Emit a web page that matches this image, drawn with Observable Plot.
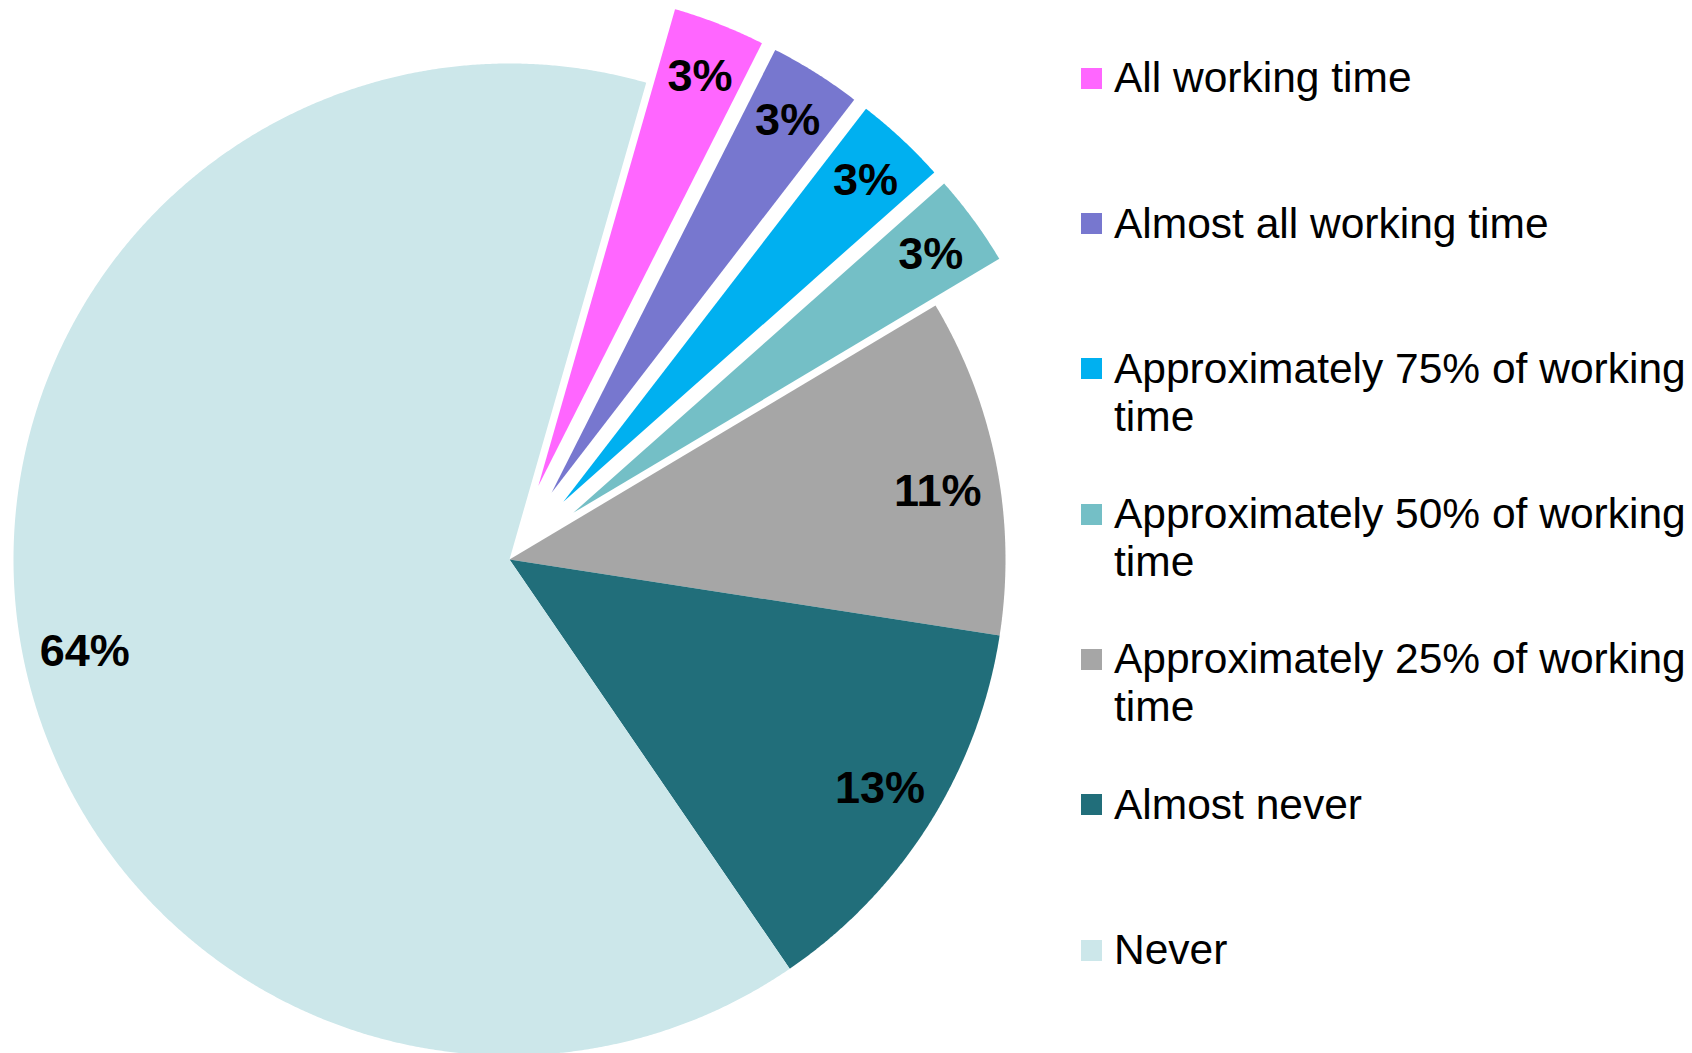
<!DOCTYPE html>
<html><head><meta charset="utf-8">
<script src="https://cdn.jsdelivr.net/npm/d3@7"></script>
<script src="https://cdn.jsdelivr.net/npm/@observablehq/plot@0.6"></script>
<style>
html,body{margin:0;padding:0;background:#fff;overflow:hidden;}
#wrap{position:relative;width:1692px;height:1053px;}
#chart{position:absolute;left:0;top:0;}
#legend{position:absolute;left:1081px;top:0;width:611px;font-family:"Liberation Sans",Arial,sans-serif;font-size:42.5px;color:#000;}
.item{position:absolute;left:0;display:flex;align-items:flex-start;}
.sw{width:21px;height:21px;margin-top:13.5px;flex:none;}
.lab{margin-left:12px;line-height:48px;width:578px;}
</style></head><body>
<div id="wrap"><div id="chart"></div><div id="legend"></div></div>
<script>
// ---- data ----
const categories = ["All working time","Almost all working time","Approximately 75% of working time","Approximately 50% of working time","Approximately 25% of working time","Almost never","Never"];
const values = [3,3,3,3,11,13,64];
const valueLabels = ["3%","3%","3%","3%","11%","13%","64%"];
const colors = ["#FF66FF","#7777CF","#00B0F0","#74BFC6","#A6A6A6","#216E7A","#CCE7EA"];
const explodedCategories = ["All working time","Almost all working time","Approximately 75% of working time","Approximately 50% of working time"];

// ---- layout ----
const W = 1060, H = 1053, cx = 509, cy = 559, R = 496;
const startDeg = 16;           // first slice angle, clockwise from 12 o'clock
const explode = 79 / R;        // explosion distance in radius units
const labelAngleTweak = {"Approximately 25% of working time": 1.6, "Almost never": -0.8, "Never": -2.6};
const font = "'Liberation Sans', Arial, sans-serif";

const total = d3.sum(values);
let cum = 0;
const poly = [], labs = [];
categories.forEach((c, i) => {
  const a0 = startDeg + cum / total * 360;
  cum += values[i];
  const a1 = startDeg + cum / total * 360;
  const mid = (a0 + a1) / 2 * Math.PI / 180;
  const off = explodedCategories.includes(c) ? explode : 0;
  const ox = off * Math.sin(mid), oy = off * Math.cos(mid);
  poly.push({c, x: ox, y: oy});
  const n = Math.max(2, Math.ceil((a1 - a0) / 0.25));
  for (let k = 0; k <= n; k++) {
    const a = (a0 + (a1 - a0) * k / n) * Math.PI / 180;
    poly.push({c, x: ox + Math.sin(a), y: oy + Math.cos(a)});
  }
  poly.push({c, x: ox, y: oy});
  const lr = off ? 0.893 : 0.875;
  const la = mid + (labelAngleTweak[c] || 0) * Math.PI / 180;
  labs.push({t: valueLabels[i], x: ox + lr * Math.sin(la), y: oy + lr * Math.cos(la)});
});

const chart = Plot.plot({
  width: W, height: H, margin: 0,
  style: {fontFamily: font, background: "white", overflow: "visible"},
  x: {domain: [-cx / R, (W - cx) / R], axis: null},
  y: {domain: [-(H - cy) / R, cy / R], axis: null},
  color: {domain: categories, range: colors},
  marks: [
    Plot.line(poly, {x: "x", y: "y", z: "c", fill: "c", stroke: "none", curve: "linear"}),
    Plot.text(labs, {x: "x", y: "y", text: "t", fontSize: 45, fontWeight: "bold", fill: "#000", fontFamily: font, dy: 3})
  ]
});
document.getElementById("chart").appendChild(chart);

// ---- legend ----
const legend = document.getElementById("legend");
const firstCenter = 77.7, step = 145.3;
categories.forEach((c, i) => {
  const item = document.createElement("div");
  item.className = "item";
  item.style.top = (firstCenter + i * step - 23.5) + "px";
  const sw = document.createElement("div");
  sw.className = "sw";
  sw.style.background = colors[i];
  const lab = document.createElement("div");
  lab.className = "lab";
  lab.textContent = c;
  item.appendChild(sw); item.appendChild(lab);
  legend.appendChild(item);
});
</script>
</body></html>
